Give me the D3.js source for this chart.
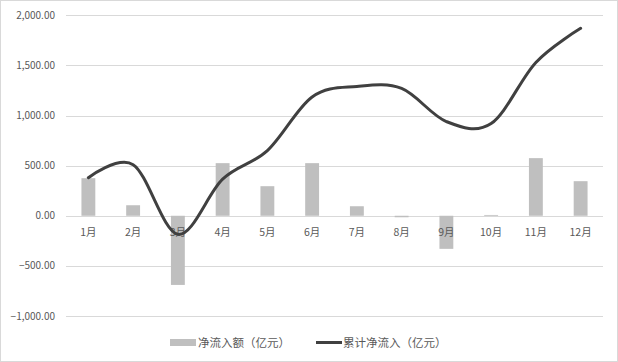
<html>
<head>
    <meta charset="utf-8">
    <script src="https://d3js.org/d3.v7.min.js"></script>
    <style>
        body { margin: 0; background: #fff; }
        text { font-family: "Noto Sans CJK SC", "Noto Sans", sans-serif; fill: #595959; }
        .grid { stroke: #d9d9d9; stroke-width: 1px; shape-rendering: crispEdges; }
    </style>
</head>
<body>
<svg id="chart" width="618" height="362"></svg>
<script>
    // data
    const months = ["1月", "2月", "3月", "4月", "5月", "6月", "7月", "8月", "9月", "10月", "11月", "12月"];
    const netFlow = [375, 105, -690, 525, 295, 525, 95, -15, -330, 8, 575, 345];
    const cumFlow = [380, 510, -185, 365, 650, 1185, 1290, 1270, 940, 920, 1530, 1870];
    const yTicks = [-1000, -500, 0, 500, 1000, 1500, 2000];
    const seriesNames = ["净流入额（亿元）", "累计净流入（亿元）"];

    const svg = d3.select("svg#chart");
    const width = +svg.attr("width");
    const height = +svg.attr("height");

    // outer border
    svg.append("rect")
        .attr("x", 0.5).attr("y", 0.5)
        .attr("width", width - 1).attr("height", height - 1)
        .attr("fill", "#fff")
        .attr("stroke", "#d9d9d9");

    const x = d3.scaleBand().domain(months).range([66, 603]);
    const y = d3.scaleLinear().domain([-1000, 2000]).range([316, 15.3]);

    // gridlines + y labels
    svg.selectAll("line.grid").data(yTicks)
        .join("line")
        .attr("class", "grid")
        .attr("x1", 66).attr("x2", 603)
        .attr("y1", d => Math.round(y(d)) + 0.5)
        .attr("y2", d => Math.round(y(d)) + 0.5);

    const fmt = d3.format(",.2f");
    svg.selectAll("text.ylab").data(yTicks)
        .join("text")
        .attr("class", "ylab")
        .attr("x", 55)
        .attr("y", d => y(d))
        .attr("dy", "0.35em")
        .attr("text-anchor", "end")
        .style("font-size", "10px")
        .text(d => fmt(d));

    // bars
    const barW = x.bandwidth() * 0.31;
    svg.selectAll("rect.bar").data(netFlow)
        .join("rect")
        .attr("class", "bar")
        .attr("x", (d, i) => x(months[i]) + x.bandwidth() / 2 - barW / 2)
        .attr("y", d => y(Math.max(0, d)))
        .attr("width", barW)
        .attr("height", d => Math.abs(y(d) - y(0)))
        .attr("fill", "#bfbfbf");

    // month labels sit on top of the bars, under the line
    svg.selectAll("text.xlab").data(months)
        .join("text")
        .attr("class", "xlab")
        .attr("x", d => x(d) + x.bandwidth() / 2)
        .attr("y", 236)
        .attr("text-anchor", "middle")
        .style("font-size", "10.5px")
        .text(d => d);

    // smoothed cumulative line
    const line = d3.line()
        .x((d, i) => x(months[i]) + x.bandwidth() / 2)
        .y(d => y(d))
        .curve(d3.curveCatmullRom.alpha(0));

    svg.append("path")
        .datum(cumFlow)
        .attr("d", line)
        .attr("fill", "none")
        .attr("stroke", "#404040")
        .attr("stroke-width", 3)
        .attr("stroke-linecap", "round")
        .attr("stroke-linejoin", "round");

    // legend
    const legend = svg.append("g");
    legend.append("rect")
        .attr("x", 170).attr("y", 339)
        .attr("width", 26).attr("height", 7)
        .attr("fill", "#bfbfbf");
    legend.append("text")
        .attr("x", 198).attr("y", 346.5)
        .style("font-size", "11.5px")
        .text(seriesNames[0]);
    legend.append("line")
        .attr("x1", 316).attr("x2", 342)
        .attr("y1", 342.5).attr("y2", 342.5)
        .attr("stroke", "#404040")
        .attr("stroke-width", 3);
    legend.append("text")
        .attr("x", 343).attr("y", 346.5)
        .style("font-size", "11.5px")
        .text(seriesNames[1]);
</script>
</body>
</html>
